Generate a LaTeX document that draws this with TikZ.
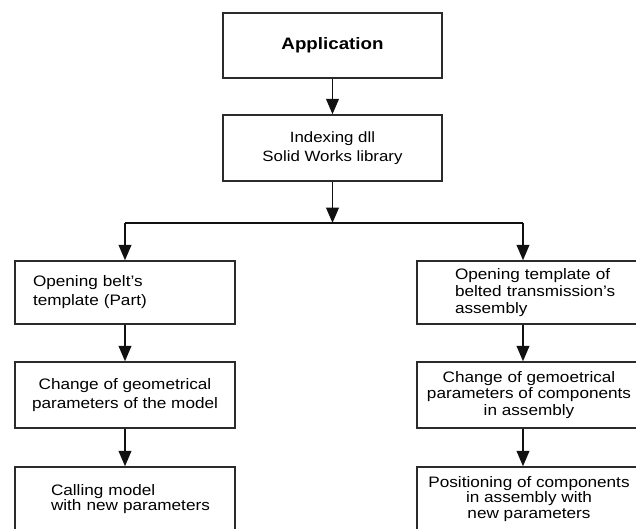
\documentclass[tikz,border=0pt]{standalone}
\usepackage{fontspec}
\setmainfont{Liberation Sans}[FakeStretch=1.13]
\usetikzlibrary{positioning, arrows.meta}
\usepackage{xcolor}
\definecolor{boxline}{HTML}{2B2B2B}
\definecolor{flowline}{HTML}{111111}

\begin{document}
\begin{tikzpicture}[font=\fontsize{10.8}{12.5}\selectfont,
    box/.style={draw=boxline, line width=1pt, minimum width=5.5cm, align=center, inner sep=2pt},
    leftbox/.style={box, inner xsep=0pt, align=left},
    arr/.style={-{Triangle[length=11pt,width=9pt]}, line width=1.4pt, color=flowline},
    link/.style={line width=1.4pt, color=flowline}]
    \useasboundingbox (0,0) rectangle (15.9,-13.225);
    \clip (0,0) rectangle (15.9,-13.225);
    % top of the chart
    \node[box, minimum width=5.475cm, minimum height=1.625cm,
          font=\fontsize{11.8}{13}\selectfont\bfseries] (app) at (8.3125,-1.1375) {Application};
    \node[box, minimum width=5.475cm, minimum height=1.65cm,
          font=\fontsize{10.6}{13.5}\selectfont] (dll) at (8.3125,-3.7)
          {Indexing dll\\Solid Works library};
    \coordinate (split) at (8.3125,-5.575);
    \coordinate (rcol) at (13.075,-5.575);
    % part branch
    \node[leftbox, text width=5.5cm, minimum height=1.575cm, font=\fontsize{10.8}{13.5}\selectfont] (part) at (3.125,-7.3125)
          {\hspace*{0.45cm}Opening belt's\\\hspace*{0.45cm}template (Part)};
    \node[box, minimum height=1.65cm, font=\fontsize{10.8}{13.5}\selectfont] (geom) at (3.125,-9.875)
          {Change of geometrical\\parameters of the model};
    \node[leftbox, text width=5.5cm, minimum height=1.6cm, font=\fontsize{10.8}{11.2}\selectfont] (call) at (3.125,-12.475)
          {\hspace*{0.9cm}Calling model\\\hspace*{0.9cm}with new parameters};
    % assembly branch
    \node[leftbox, text width=5.6cm, minimum height=1.575cm, font=\fontsize{10.8}{12}\selectfont] (tmpl) at (13.225,-7.3125)
          {\hspace*{0.95cm}Opening template of\\\hspace*{0.95cm}belted transmission's\\\hspace*{0.95cm}assembly};
    \node[box, minimum width=5.6cm, minimum height=1.65cm, font=\fontsize{10.8}{11.8}\selectfont] (comp) at (13.225,-9.875)
          {Change of gemoetrical\\parameters of components\\in assembly};
    \node[box, minimum width=5.6cm, minimum height=1.6cm, font=\fontsize{10.8}{10.8}\selectfont] (pos) at (13.225,-12.475)
          {Positioning of components\\in assembly with\\new parameters};
    % connectors
    \draw[arr] (app) -- (dll);
    \draw[arr] (dll) -- (split);
    \draw[link] (split -| part.north) -- (rcol);
    \draw[arr] (split -| part.north) -- (part.north);
    \draw[arr] (rcol) -- (tmpl.north -| rcol);
    \draw[arr] (part) -- (geom);
    \draw[arr] (geom) -- (call);
    \draw[arr] (tmpl.south -| rcol) -- (comp.north -| rcol);
    \draw[arr] (comp.south -| rcol) -- (pos.north -| rcol);
\end{tikzpicture}
\end{document}
